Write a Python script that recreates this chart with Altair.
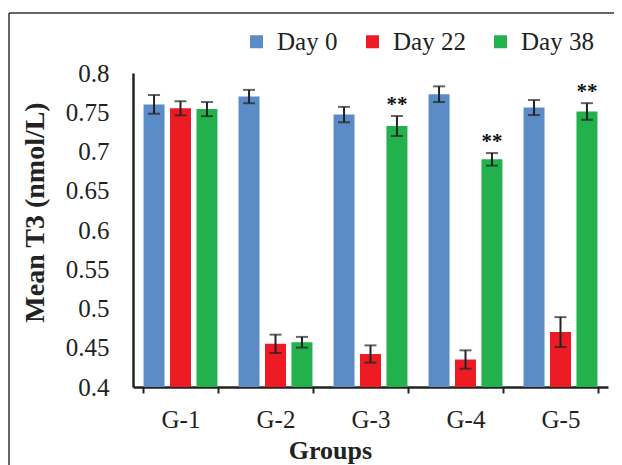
import altair as alt
import pandas as pd

groups = ["G-1", "G-2", "G-3", "G-4", "G-5"]
days = ["Day 0", "Day 22", "Day 38"]
day0 = [0.760, 0.770, 0.747, 0.773, 0.756]
day0_err = [0.012, 0.0085, 0.0098, 0.010, 0.0096]
day22 = [0.755, 0.455, 0.442, 0.435, 0.470]
day22_err = [0.009, 0.0117, 0.011, 0.0117, 0.019]
day38 = [0.754, 0.457, 0.7325, 0.690, 0.751]
day38_err = [0.009, 0.0068, 0.0127, 0.008, 0.0106]
day38_marks = ["", "", "**", "**", "**"]
colors = ["#5b8cc8", "#ed1c24", "#22b14c"]
y_ticks = [0.4, 0.45, 0.5, 0.55, 0.6, 0.65, 0.7, 0.75, 0.8]

rows = []
for vals, errs, d in [(day0, day0_err, days[0]), (day22, day22_err, days[1]), (day38, day38_err, days[2])]:
    for i, g in enumerate(groups):
        rows.append({
            "group": g, "day": d, "value": vals[i],
            "lo": vals[i] - errs[i], "hi": vals[i] + errs[i],
            "mark": day38_marks[i] if d == "Day 38" else "",
        })
df = pd.DataFrame(rows)

FONT = "Liberation Serif"

x_axis = alt.Axis(title="Groups", labelAngle=0, tickBand="extent",
                  ticks=True, tickSize=6, tickWidth=2, tickColor="#222",
                  domainColor="#222", domainWidth=2.5,
                  labelFont=FONT, labelFontSize=25, labelColor="#222",
                  labelPadding=14,
                  titleFont=FONT, titleFontSize=26, titleFontWeight="bold",
                  titleColor="#222", titleX=197, titleY=71,
                  titleBaseline="alphabetic", titleAlign="center")
y_axis = alt.Axis(title="Mean T3 (nmol/L)", values=y_ticks, format=".2~f",
                  labelOverlap=False, tickCount=9,
                  grid=False, ticks=False, domainColor="#222", domainWidth=2.5,
                  labelFont=FONT, labelFontSize=25, labelColor="#222",
                  labelPadding=24,
                  titleFont=FONT, titleFontSize=28, titleFontWeight="bold",
                  titleColor="#222", titleX=-98, titleY=139,
                  titleAlign="center", titleBaseline="middle")

x_scale = alt.Scale(paddingInner=0.22, paddingOuter=0.11)
xoff = alt.XOffset("day:N", sort=days, scale=alt.Scale(paddingInner=0.2, paddingOuter=0))
y_scale = alt.Scale(domain=[0.4, 0.8], zero=False, nice=False)

xs = alt.X("group:N", sort=groups, scale=x_scale, axis=x_axis)

base = alt.Chart(df)

bars = base.mark_bar(size=21).encode(
    x=xs,
    xOffset=xoff,
    y=alt.Y("value:Q", scale=y_scale, axis=y_axis),
    y2=alt.datum(0.4),
    color=alt.Color("day:N", sort=days, scale=alt.Scale(domain=days, range=colors),
                    legend=alt.Legend(title=None, orient="none", legendX=111, legendY=-44,
                                      direction="horizontal", columns=3,
                                      symbolType="square", symbolSize=169,
                                      symbolStrokeWidth=0, symbolOpacity=1,
                                      labelFont=FONT, labelFontSize=25, labelColor="#222",
                                      labelOffset=8, columnPadding=22, padding=0)),
)

err_rule = base.mark_rule(color="#222", strokeWidth=2).encode(
    x=xs, xOffset=xoff,
    y=alt.Y("lo:Q", scale=y_scale, axis=y_axis), y2="hi:Q",
)
cap_lo = base.mark_tick(color="#222", size=12, thickness=2).encode(
    x=xs, xOffset=xoff, y=alt.Y("lo:Q", scale=y_scale, axis=y_axis),
)
cap_hi = base.mark_tick(color="#222", size=12, thickness=2).encode(
    x=xs, xOffset=xoff, y=alt.Y("hi:Q", scale=y_scale, axis=y_axis),
)
stars = base.mark_text(font=FONT, fontSize=21, fontWeight="bold", color="#111",
                       baseline="alphabetic", dy=-5).encode(
    x=xs, xOffset=xoff, y=alt.Y("hi:Q", scale=y_scale, axis=y_axis),
    text="mark:N",
)

one = alt.Chart(pd.DataFrame({"a": [0]}))
frame_left = one.mark_rule(color="#333", strokeWidth=1.5).encode(
    x=alt.value(-124), y=alt.value(-60), y2=alt.value(500))
frame_top = one.mark_rule(color="#333", strokeWidth=1.5).encode(
    x=alt.value(-124), x2=alt.value(600), y=alt.value(-60))

chart = alt.layer(bars, err_rule, cap_lo, cap_hi, stars, frame_left, frame_top).properties(
    width=475, height=314,
    autosize=alt.AutoSizeParams(type="none"),
    padding={"left": 125, "top": 65, "right": 6, "bottom": 82},
).configure_view(stroke=None)

chart.save("out.html", embed_options={"renderer": "svg", "actions": False})
